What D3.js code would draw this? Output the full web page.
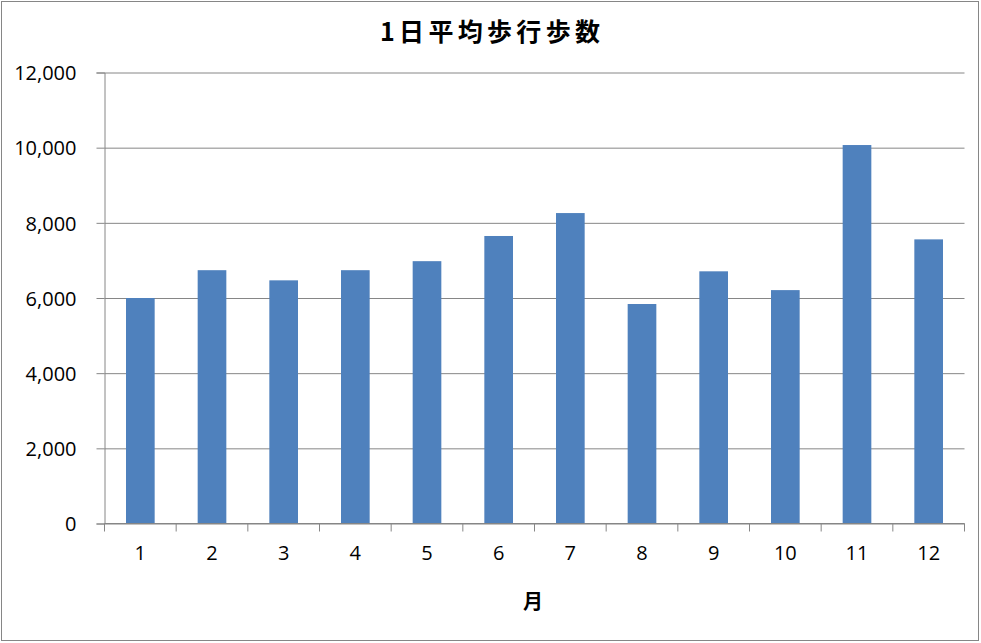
<!DOCTYPE html>
<html>
<head>
<meta charset="utf-8">
<script src="https://cdn.jsdelivr.net/npm/d3@7"></script>
<style>
  body { margin: 0; background: #fff; }
  svg { display: block; }
  .tick text { font-family: "Open Sans", "Noto Sans", sans-serif; font-size: 20px; fill: #000; }
</style>
</head>
<body>
<div id="chart"></div>
<script>
// chart values
var months = ["1", "2", "3", "4", "5", "6", "7", "8", "9", "10", "11", "12"];
var steps = [6000, 6740, 6470, 6740, 6980, 7650, 8260, 5840, 6710, 6210, 10070, 7560];
var yTicks = [0, 2000, 4000, 6000, 8000, 10000, 12000];

var W = 981, H = 643;
var margin = {top: 72.5, right: 16.5, bottom: 119.5, left: 104.5},
    width = W - margin.left - margin.right,
    height = H - margin.top - margin.bottom;

var svg = d3.select("#chart").append("svg")
    .attr("width", W)
    .attr("height", H);

// outer border
svg.append("rect")
    .attr("x", 1.5).attr("y", 1.5)
    .attr("width", W - 4).attr("height", H - 4)
    .attr("fill", "#fff")
    .attr("stroke", "#868686")
    .attr("stroke-width", 1);

svg.append("text")
    .attr("x", 490)
    .attr("y", 41)
    .attr("text-anchor", "middle")
    .attr("textLength", 220)
    .attr("lengthAdjust", "spacing")
    .style("font-family", "'Noto Sans CJK JP', sans-serif")
    .style("font-weight", "bold")
    .style("font-size", "25px")
    .text("1日平均歩行歩数");

var g = svg.append("g")
    .attr("transform", "translate(" + margin.left + "," + margin.top + ")");

var x = d3.scaleBand()
    .domain(months)
    .range([0, width])
    .paddingInner(0.6)
    .paddingOuter(0.3);

var y = d3.scaleLinear()
    .domain([0, 12000])
    .range([height, 0]);

// gridlines
g.append("g")
    .attr("class", "grid")
    .call(d3.axisLeft(y).tickValues(yTicks).tickSize(-width).tickFormat(""))
    .call(function(s) {
        s.select(".domain").remove();
        s.selectAll("line").attr("stroke", "#868686");
    });

// bars
g.selectAll("rect.bar")
    .data(steps)
    .enter().append("rect")
    .attr("class", "bar")
    .attr("x", function(d, i) { return x(months[i]); })
    .attr("y", function(d) { return y(d); })
    .attr("width", x.bandwidth())
    .attr("height", function(d) { return height - y(d); })
    .attr("fill", "#4f81bd");

// y axis
g.append("g")
    .call(d3.axisLeft(y).tickValues(yTicks).tickSize(8).tickPadding(20).tickFormat(d3.format(",")))
    .call(function(s) {
        s.select(".domain").attr("stroke", "#868686");
        s.selectAll("line").attr("stroke", "#868686");
        s.selectAll("text").attr("dy", "0.36em");
    });

// x axis (labels centred on bars, ticks between categories)
var xAxis = g.append("g")
    .attr("transform", "translate(0," + height + ")")
    .call(d3.axisBottom(x).tickSize(0).tickPadding(22))
    .call(function(s) {
        s.select(".domain").attr("stroke", "#868686").attr("d", "M0,0H" + width);
    });

xAxis.selectAll("line.sep")
    .data(d3.range(months.length + 1))
    .enter().append("line")
    .attr("class", "sep")
    .attr("x1", function(i) { return i * x.step(); })
    .attr("x2", function(i) { return i * x.step(); })
    .attr("y1", 0)
    .attr("y2", 8)
    .attr("stroke", "#868686");

g.append("text")
    .attr("x", 533 - margin.left)
    .attr("y", height + 85)
    .attr("text-anchor", "middle")
    .style("font-family", "'Noto Sans CJK JP', sans-serif")
    .style("font-weight", "bold")
    .style("font-size", "20px")
    .text("月");
</script>
</body>
</html>
